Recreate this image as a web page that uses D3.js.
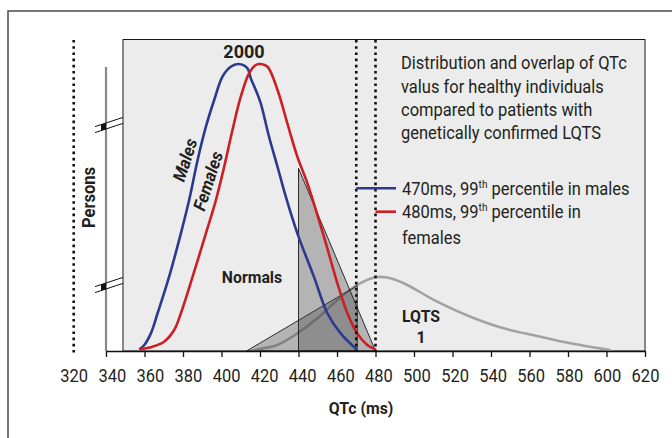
<!DOCTYPE html>
<html><head><meta charset="utf-8">
<script src="https://cdn.jsdelivr.net/npm/d3@7"></script>
<style>body{margin:0;background:#fff}svg{display:block}</style>
</head><body>
<svg id="c" width="672" height="438"></svg>
<script>
// ---------------- data ----------------
const xTicks = d3.range(340, 621, 20);
const xTickLabels = d3.range(320, 621, 20);

const malesQTc = [357.3, 359.9, 363.3, 366.8, 372.8, 378.9, 383.2, 387.6, 391.9, 396.2, 400.5, 404.8, 408.8, 413.5, 415.2, 417.8, 420.4, 424.7, 429.1, 433.4, 439.4, 448.0, 455.0, 461.9, 470.5];
const malesN   = [12, 42, 123, 263, 518, 820, 1052, 1331, 1563, 1749, 1912, 1981, 2000, 1970, 1900, 1819, 1726, 1493, 1284, 1075, 820, 518, 263, 123, 8];

const femalesQTc = [357.3, 364.2, 370.2, 375.4, 378.9, 385.0, 391.9, 397.1, 401.4, 405.7, 410.0, 414.3, 417.8, 420.4, 423.9, 429.1, 434.2, 439.4, 444.6, 453.2, 460.2, 465.4, 470.5, 475.7, 480.4];
const femalesN   = [12, 30, 65, 146, 263, 518, 820, 1052, 1284, 1540, 1772, 1935, 1993, 2000, 1981, 1819, 1587, 1354, 1169, 797, 472, 263, 123, 42, 8];

const lqtsQTc = [416, 419, 429, 439.4, 449.8, 460.2, 470.5, 480, 486, 494.7, 512, 529.3, 546.6, 563.9, 581.2, 602];
const lqtsN   = [0, 12, 42, 123, 228, 355, 460, 514, 512, 472, 344, 239, 158, 105, 54, 7];

const lqtsTriQTc = [413, 470.5, 470.5];
const lqtsTriN   = [0, 455, 0];
const normTriQTc = [440, 440, 480];
const normTriN   = [0, 1273, 0];

const cutoffs = [470, 480];
const cutoffColors = ["#2b3a8f", "#cc1f25"];
const peakLabel = "2000";
const yBreaks = [1568, 453];

const infoLines = ["Distribution and overlap of QTc", "valus for healthy individuals", "compared to patients with", "genetically confirmed LQTS"];

// ---------------- setup ----------------
const svg = d3.select("#c");
const FONT = "Roboto, 'Open Sans', 'Noto Sans', sans-serif";
const INK = "#231f20";
const BLUE = cutoffColors[0], RED = cutoffColors[1], GREY = "#a2a2a2";

const x = d3.scaleLinear().domain([340, 620]).range([106, 645]);
const xLab = d3.scaleLinear().domain([320, 620]).range([73.7, 645]);
const y = d3.scaleLinear().domain([0, 2000]).range([351, 64]);
const Y0 = y(0);

// condense factor: match the narrow face of the original
const probe = svg.append("text").attr("font-family", FONT).attr("font-size", 18).text(infoLines[0]);
const cf = Math.max(0.72, Math.min(1, 226 / probe.node().getComputedTextLength()));
probe.remove();

function label(str, px, py, o = {}) {
  const t = svg.append("text")
    .attr("transform", `translate(${px},${py})${o.rotate ? ` rotate(${o.rotate})` : ""} scale(${o.sx ?? cf},1)`)
    .attr("font-family", FONT)
    .attr("font-size", o.size ?? 18)
    .attr("font-weight", o.weight ?? "normal")
    .attr("font-style", o.italic ? "italic" : "normal")
    .attr("text-anchor", o.anchor ?? "start")
    .attr("fill", INK);
  if (o.dy) t.attr("dy", o.dy);
  t.text(str);
  return t;
}

// outer frame
svg.append("path").attr("d", "M8,438V11H672").attr("fill", "none").attr("stroke", "#4a4a4a").attr("stroke-width", 1.5);

// panel
svg.append("rect").attr("x", 123).attr("y", 39.5).attr("width", x(620) - 123).attr("height", Y0 - 39.5)
  .attr("fill", "#ebeceb").attr("stroke", "#1a1a1a").attr("stroke-width", 1);

// LQTS curve
const line = d3.line().x(d => x(d[0])).y(d => y(d[1])).curve(d3.curveCatmullRom.alpha(0.5));
svg.append("path").datum(d3.zip(lqtsQTc, lqtsN)).attr("d", line)
  .attr("fill", "none").attr("stroke", GREY).attr("stroke-width", 2.6);

// triangles
const tri = d3.line().x(d => x(d[0])).y(d => y(d[1]));
[[lqtsTriQTc, lqtsTriN], [normTriQTc, normTriN]].forEach(([q, n]) => {
  svg.append("path").datum(d3.zip(q, n)).attr("d", d => tri(d) + "Z")
    .attr("fill", "#444").attr("fill-opacity", 0.33)
    .attr("stroke", "#1a1a1a").attr("stroke-width", 0.9);
});

// normal distributions
svg.append("path").datum(d3.zip(malesQTc, malesN)).attr("d", line)
  .attr("fill", "none").attr("stroke", BLUE).attr("stroke-width", 2.6);
svg.append("path").datum(d3.zip(femalesQTc, femalesN)).attr("d", line)
  .attr("fill", "none").attr("stroke", RED).attr("stroke-width", 2.6);

// dotted cutoff lines and Persons line
const dots = { "stroke": "#111", "stroke-width": 2.6, "stroke-dasharray": "2.6 3.6" };
cutoffs.forEach(c => {
  const l = svg.append("line").attr("x1", x(c)).attr("x2", x(c)).attr("y1", 40).attr("y2", Y0);
  Object.entries(dots).forEach(([k, v]) => l.attr(k, v));
});
{
  const l = svg.append("line").attr("x1", xLab(320)).attr("x2", xLab(320)).attr("y1", 40).attr("y2", Y0 + 2);
  Object.entries(dots).forEach(([k, v]) => l.attr(k, v));
}

// persons axis with breaks
svg.append("line").attr("x1", 106).attr("x2", 106).attr("y1", 67).attr("y2", Y0)
  .attr("stroke", "#888").attr("stroke-width", 2.2);
yBreaks.forEach(v => {
  const yb = y(v), s = -0.33;
  const g = svg.append("g");
  g.append("path").attr("d", `M${106 - 5},${yb - 3 + s * -5}L106,${yb - 3}L106,${yb + 3}L${106 - 5},${yb + 3 + s * -5}Z`).attr("fill", "#111");
  [-3, 3].forEach(o => g.append("line")
    .attr("x1", 95).attr("y1", yb + o + s * (95 - 106))
    .attr("x2", 123).attr("y2", yb + o + s * (123 - 106))
    .attr("stroke", "#111").attr("stroke-width", 1));
});

// x axis: ticks
const gx = svg.append("g").attr("transform", `translate(0,${Y0})`)
  .call(d3.axisBottom(x).tickValues(xTicks).tickSize(6).tickSizeOuter(0).tickFormat(""));
gx.select(".domain").attr("stroke", "#111").attr("stroke-width", 1.5);
gx.selectAll(".tick line").attr("stroke", "#111").attr("stroke-width", 1.3);

// x axis: labels
const gl = svg.append("g").attr("transform", `translate(0,${Y0})`)
  .call(d3.axisBottom(xLab).tickValues(xTickLabels).tickSize(0));
gl.select(".domain").remove();
gl.selectAll("text").attr("y", 31).attr("dy", 0).attr("font-size", 18).attr("font-family", FONT)
  .attr("fill", INK).attr("transform", `scale(${cf},1)`);

// titles
label("QTc (ms)", 361, 414, { size: 17, weight: "bold", anchor: "middle", sx: 0.93 });
label("Persons", 95, 197.5, { size: 18, weight: "bold", anchor: "middle", rotate: -90, sx: 0.92 });
label(peakLabel, 244, 58, { size: 18, weight: "bold", anchor: "middle", sx: 1 });
label("Males", 185, 160, { size: 17.5, weight: "bold", italic: true, anchor: "middle", rotate: -72, dy: "0.35em", sx: 0.95 });
label("Females", 208, 181, { size: 17.5, weight: "bold", italic: true, anchor: "middle", rotate: -72, dy: "0.35em", sx: 0.95 });
label("Normals", 252, 283, { size: 17, weight: "bold", anchor: "middle", sx: 0.93 });
label("LQTS", 421, 321.5, { size: 17, weight: "bold", anchor: "middle", sx: 0.93 });
label("1", 421, 342.5, { size: 17, weight: "bold", anchor: "middle", sx: 0.93 });

// info text
infoLines.forEach((s, i) => label(s, 401, 69.3 + i * 23.3));

// legend
const legendY = [188.3, 211.7];
cutoffs.forEach((c, i) => {
  svg.append("line").attr("x1", x(c)).attr("x2", 396).attr("y1", legendY[i]).attr("y2", legendY[i])
    .attr("stroke", cutoffColors[i]).attr("stroke-width", 2.6);
});
function legendText(py, ms, rest) {
  const t = label("", 402, py);
  t.append("tspan").text(`${ms}ms, 99`);
  t.append("tspan").attr("font-size", 11).attr("dy", -7).text("th");
  t.append("tspan").attr("dy", 7).text(rest);
}
legendText(194.5, cutoffs[0], " percentile in males");
legendText(218, cutoffs[1], " percentile in");
label("females", 402, 244);
</script>
</body></html>
